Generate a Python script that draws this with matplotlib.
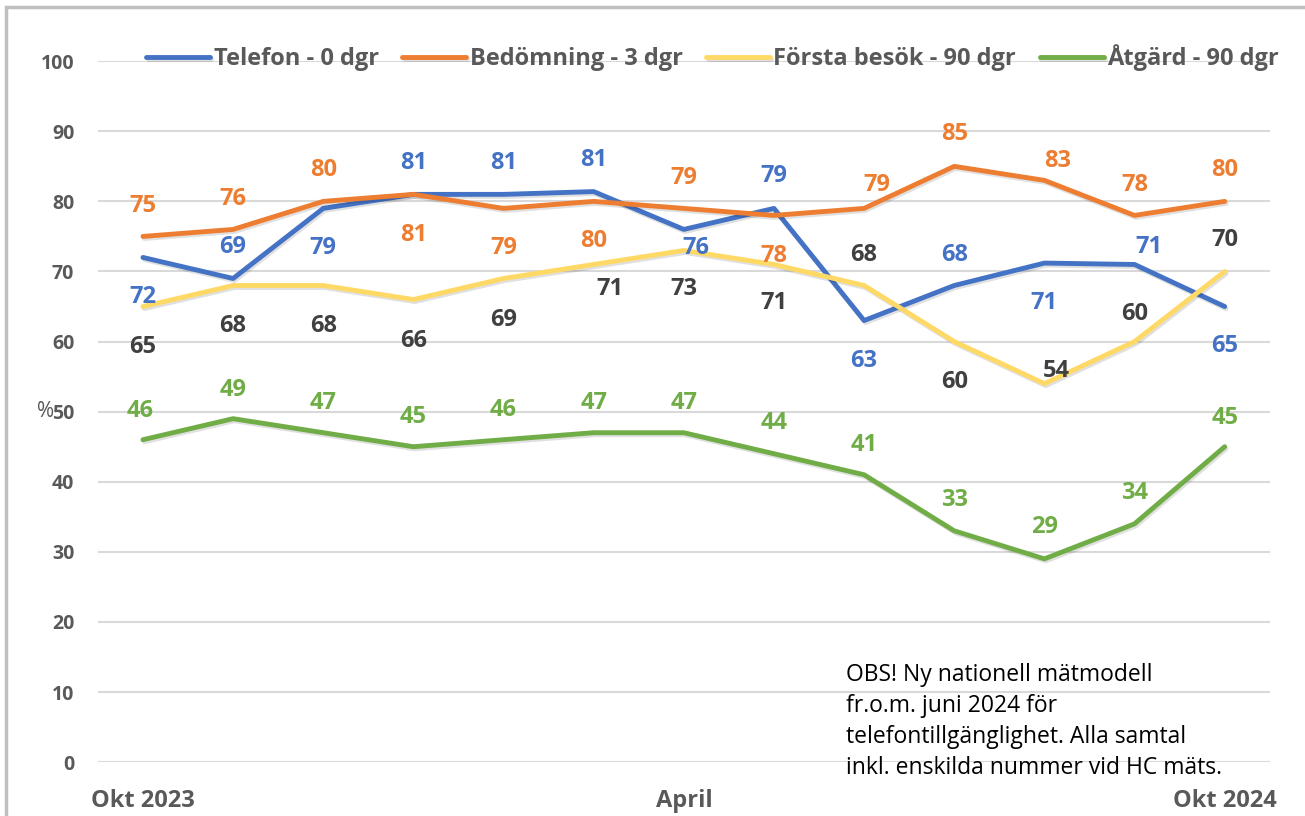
import numpy as np
import matplotlib.pyplot as plt
import matplotlib.patheffects as pe
from matplotlib.patches import Rectangle

plt.rcParams['font.family'] = ['Open Sans', 'DejaVu Sans']

months = ['Okt 2023', 'Nov', 'Dec', 'Jan', 'Feb', 'Mar', 'April',
          'Maj', 'Jun', 'Jul', 'Aug', 'Sep', 'Okt 2024']
telefon = [72, 69, 79, 81, 81, 81.4, 76, 79, 63, 68, 71.2, 71, 65]
bedomning = [75, 76, 80, 81, 79, 80, 79, 78, 79, 85, 83, 78, 80]
forsta = [65, 68, 68, 66, 69, 71, 73, 71, 68, 60, 54, 60, 70]
atgard = [46, 49, 47, 45, 46, 47, 47, 44, 41, 33, 29, 34, 45]

tick_idx = [0, 6, 12]
yticks = list(range(0, 101, 10))
note = ('OBS! Ny nationell mätmodell\nfr.o.m. juni 2024 för\n'
        'telefontillgänglighet. Alla samtal\ninkl. enskilda nummer vid HC mäts.')

# data label offsets in pixels (dx right, dy down) from each point
tel_off = [(0, 37), (0, -34), (0, 37), (0, -34), (0, -34), (0, -35), (12, 16),
           (0, -35), (0, 37), (0, -34), (0, 37), (14, -20), (0, 36)]
bed_off = [(0, -33), (0, -33), (0, -34), (0, 38), (0, 37), (0, 37), (0, -33),
           (0, 38), (13, -26), (0, -35), (13, -22), (0, -33), (0, -34)]
for_off = [(0, 37), (0, 37), (0, 37), (0, 38), (0, 39), (16, 22), (0, 36),
           (0, 36), (0, -34), (0, 37), (12, -16), (0, -31), (0, -34)]
atg_off = [(-3, -32), (0, -32), (0, -33), (0, -33), (0, -33), (0, -33), (0, -33),
           (0, -34), (0, -33), (0, -34), (0, -35), (0, -34), (0, -32)]

series = [
    ('Telefon - 0 dgr', telefon, '#4472c4', '#4472c4', tel_off),
    ('Bedömning - 3 dgr', bedomning, '#ed7d31', '#ed7d31', bed_off),
    ('Första besök - 90 dgr', forsta, '#ffd966', '#404040', for_off),
    ('Åtgärd - 90 dgr', atgard, '#70ad47', '#70ad47', atg_off),
]

fig = plt.figure(figsize=(13.05, 8.16), dpi=100)
ax = fig.add_axes([0.075, 0.066, 0.898, 0.859])
x = np.arange(len(months))
px = 72 / fig.dpi  # pixel -> points

shadow = [pe.SimpleLineShadow(offset=(1, -1.5), shadow_color='#000000', alpha=0.12),
          pe.Normal()]
for name, vals, col, lcol, offs in series:
    ax.plot(x, vals, color=col, lw=3.5, label=name, solid_capstyle='round',
            path_effects=shadow)
    for xi, v, (dx, dy) in zip(x, vals, offs):
        ax.annotate(str(int(round(v))), (xi, v), xytext=(dx * px, -dy * px),
                    textcoords='offset points', ha='center', va='center_baseline',
                    fontsize=17, fontweight='bold', color=lcol)

ax.set_xlim(-0.5, 12.5)
ax.set_ylim(0, 100)
ax.set_yticks(yticks)
ax.set_xticks(tick_idx)
ax.set_xticklabels([months[i] for i in tick_idx])
ax.grid(axis='y', color='#d9d9d9', lw=1.5)
ax.set_axisbelow(True)
for s in ax.spines.values():
    s.set_visible(False)
ax.tick_params(axis='y', length=0, pad=17, labelsize=14, labelcolor='#595959')
ax.tick_params(axis='x', length=0, pad=19, labelsize=17, labelcolor='#595959')
for lab in ax.get_xticklabels() + ax.get_yticklabels():
    lab.set_fontweight('bold')

ax.set_ylabel('%', rotation=0, fontsize=15, color='#595959', va='center')
ax.yaxis.set_label_coords(-0.045, 0.5)

ax.text(0.638, 0.058, note, transform=ax.transAxes, fontsize=16.5,
        color='#000000', va='center', ha='left', linespacing=1.38)

fig.legend(loc='center', bbox_to_anchor=(0.546, 1 - 58 / 816), ncol=4,
           frameon=False, handlelength=2.7, columnspacing=1.0,
           handletextpad=0.15,
           prop={'weight': 'bold', 'size': 17})
for t in fig.legends[0].get_texts():
    t.set_color('#595959')

fig.patches.append(Rectangle((6 / 1305, -0.01), 1.1, 1 - 7 / 816 + 0.01,
                             transform=fig.transFigure, fill=False,
                             edgecolor='#bfbfbf', lw=2.5, figure=fig))

fig.savefig('out.png', dpi=100)
